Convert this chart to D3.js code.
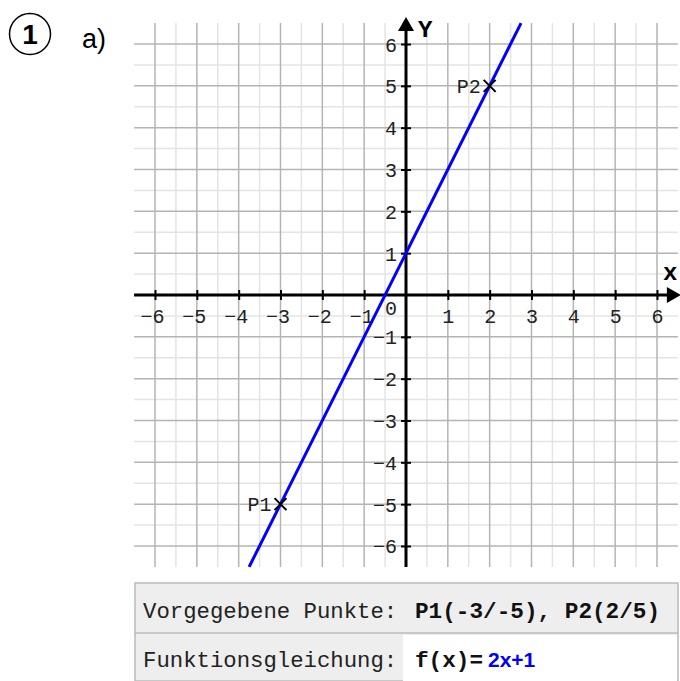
<!DOCTYPE html>
<html><head><meta charset="utf-8">
<script src="https://cdn.jsdelivr.net/npm/d3@7"></script>
<style>
html,body{margin:0;padding:0;background:#fff;}
svg{display:block;}
</style></head>
<body>
<svg id="c" width="680" height="681"></svg>
<script>
// ---- data ----
const xTickValues = [-6,-5,-4,-3,-2,-1,1,2,3,4,5,6];
const yTickValues = [-6,-5,-4,-3,-2,-1,1,2,3,4,5,6];
const gridMajor = [-6,-5,-4,-3,-2,-1,0,1,2,3,4,5,6];
const gridMinor = [-5.5,-4.5,-3.5,-2.5,-1.5,-0.5,0.5,1.5,2.5,3.5,4.5,5.5];
const pointLabels = ["P1","P2"];
const pointX = [-3, 2];
const pointY = [-5, 5];
const lineX = [-3.75, 2.75];
const lineY = [-6.5, 6.5];
const tableLabels = ["Vorgegebene Punkte:", "Funktionsgleichung:"];
const tableValues = ["P1(-3/-5), P2(2/5)", "f(x)="];
const equationText = "2x+1";

const svg = d3.select("#c");
const x = d3.scaleLinear().domain([-6.5, 6.5]).range([134.1, 677.9]);
const y = d3.scaleLinear().domain([-6.5, 6.5]).range([566.9, 23.1]);
const mono = "'Courier New','Liberation Mono',monospace";
const sans = "'Liberation Sans',Arial,sans-serif";

// header
svg.append("circle").attr("cx", 30).attr("cy", 34).attr("r", 20.5)
  .attr("fill","none").attr("stroke","#000").attr("stroke-width",1.5);
svg.append("text").attr("x",30).attr("y",44).attr("text-anchor","middle")
  .attr("font-family",sans).attr("font-weight","bold")
  .attr("font-size",28).text("1");
svg.append("text").attr("x",82).attr("y",48)
  .attr("font-family",sans)
  .attr("font-size",27).text("a)");

// grid
const g = svg.append("g");
g.selectAll(".vmin").data(gridMinor).join("line")
  .attr("x1",d=>x(d)).attr("x2",d=>x(d)).attr("y1",y(6.5)).attr("y2",y(-6.5))
  .attr("stroke","#e4e4e4").attr("stroke-width",1.5);
g.selectAll(".hmin").data(gridMinor).join("line")
  .attr("y1",d=>y(d)).attr("y2",d=>y(d)).attr("x1",x(-6.5)).attr("x2",x(6.5))
  .attr("stroke","#e4e4e4").attr("stroke-width",1.5);
g.selectAll(".vmaj").data(gridMajor).join("line")
  .attr("x1",d=>x(d)).attr("x2",d=>x(d)).attr("y1",y(6.5)).attr("y2",y(-6.5))
  .attr("stroke","#b4b4b4").attr("stroke-width",1.5);
g.selectAll(".hmaj").data(gridMajor).join("line")
  .attr("y1",d=>y(d)).attr("y2",d=>y(d)).attr("x1",x(-6.5)).attr("x2",x(6.5))
  .attr("stroke","#b4b4b4").attr("stroke-width",1.5);

// axes via d3 axis
const fmt = d => d < 0 ? "\u2212" + Math.abs(d) : d;
const xAxis = d3.axisBottom(x).tickValues(xTickValues).tickSize(0).tickPadding(0).tickFormat(fmt);
const yAxis = d3.axisLeft(y).tickValues(yTickValues).tickSize(0).tickPadding(0).tickFormat(fmt);

const gx = svg.append("g").attr("transform",`translate(0,${y(0)})`).call(xAxis);
gx.select(".domain").remove();
gx.selectAll(".tick text").attr("font-family",mono).attr("font-size",20).attr("fill","#222")
  .attr("dy",null).attr("y",28).attr("dx", d => d < 0 ? -3 : 0);
gx.selectAll(".tick").append("line").attr("y1",-5).attr("y2",5).attr("stroke","#000").attr("stroke-width",2);

const gy = svg.append("g").attr("transform",`translate(${x(0)},0)`).call(yAxis);
gy.select(".domain").remove();
gy.selectAll(".tick text").attr("font-family",mono).attr("font-size",20).attr("fill","#222")
  .attr("x",-9).attr("dy","0.35em");
gy.selectAll(".tick").append("line").attr("x1",-5).attr("x2",5).attr("stroke","#000").attr("stroke-width",2);

// axis lines with arrows
svg.append("line").attr("x1",x(-6.5)).attr("x2",x(6.5)-8).attr("y1",y(0)).attr("y2",y(0))
  .attr("stroke","#000").attr("stroke-width",3);
svg.append("path").attr("d",`M${x(6.5)+3},${y(0)} L${x(6.5)-11},${y(0)-8} L${x(6.5)-11},${y(0)+8} Z`).attr("fill","#000");
svg.append("line").attr("x1",x(0)).attr("x2",x(0)).attr("y1",y(-6.5)).attr("y2",y(6.5)+8)
  .attr("stroke","#000").attr("stroke-width",3);
svg.append("path").attr("d",`M${x(0)},${y(6.5)-6} L${x(0)-8},${y(6.5)+8} L${x(0)+8},${y(6.5)+8} Z`).attr("fill","#000");

svg.append("text").attr("x",x(0)+12).attr("y",y(6.5)+14).attr("font-family",mono)
  .attr("font-weight","bold").attr("font-size",24).text("Y");
svg.append("text").attr("x",x(6.5)-15).attr("y",y(0)-15).attr("font-family",mono)
  .attr("font-weight","bold").attr("font-size",24).text("x");
svg.append("text").attr("x",x(0)-9).attr("y",y(0)+20).attr("text-anchor","end")
  .attr("font-family",mono).attr("font-size",20).attr("fill","#222").text("0");

// function line
svg.append("line").attr("x1",x(lineX[0])).attr("y1",y(lineY[0])).attr("x2",x(lineX[1])).attr("y2",y(lineY[1]))
  .attr("stroke","#0000ff").attr("stroke-width",3);

// points
const pts = svg.append("g").selectAll("g").data(pointX.map((d,i)=>({x:d,y:pointY[i],l:pointLabels[i]}))).join("g")
  .attr("transform",d=>`translate(${x(d.x)},${y(d.y)})`);
pts.append("path").attr("d","M-6,-6L6,6M-6,6L6,-6").attr("stroke","#000").attr("stroke-width",2);
pts.append("text").attr("x",-9).attr("dy","0.35em").attr("text-anchor","end")
  .attr("font-family",mono).attr("font-size",20).attr("fill","#222").text(d=>d.l);

// table
const tx = 135, tw = 543, ty = 583, rh = 49;
svg.append("rect").attr("x",tx).attr("y",ty).attr("width",tw).attr("height",rh*2)
  .attr("fill","#eeeeee").attr("stroke","#bbbbbb").attr("stroke-width",1.5);
svg.append("line").attr("x1",tx).attr("x2",tx+tw).attr("y1",ty+rh+1).attr("y2",ty+rh+1)
  .attr("stroke","#bbbbbb").attr("stroke-width",1.5);
svg.append("rect").attr("x",403).attr("y",ty+rh+3).attr("width",tx+tw-403-1).attr("height",rh)
  .attr("fill","#ffffff");
tableLabels.forEach((t,i)=>{
  svg.append("text").attr("x",143).attr("y",ty+rh*i+rh/2+10).attr("font-family",mono)
    .attr("font-size",22.3).attr("fill","#222").text(t);
  svg.append("text").attr("x",415).attr("y",ty+rh*i+rh/2+10).attr("font-family",mono)
    .attr("font-weight","bold").attr("font-size",22.7).attr("fill","#111").text(tableValues[i]);
});
svg.append("text").attr("x",488).attr("y",ty+rh+rh/2+10).attr("font-family",sans)
  .attr("font-weight","bold").attr("font-size",21).attr("fill","#0000ff").text(equationText);
</script>
</body></html>
